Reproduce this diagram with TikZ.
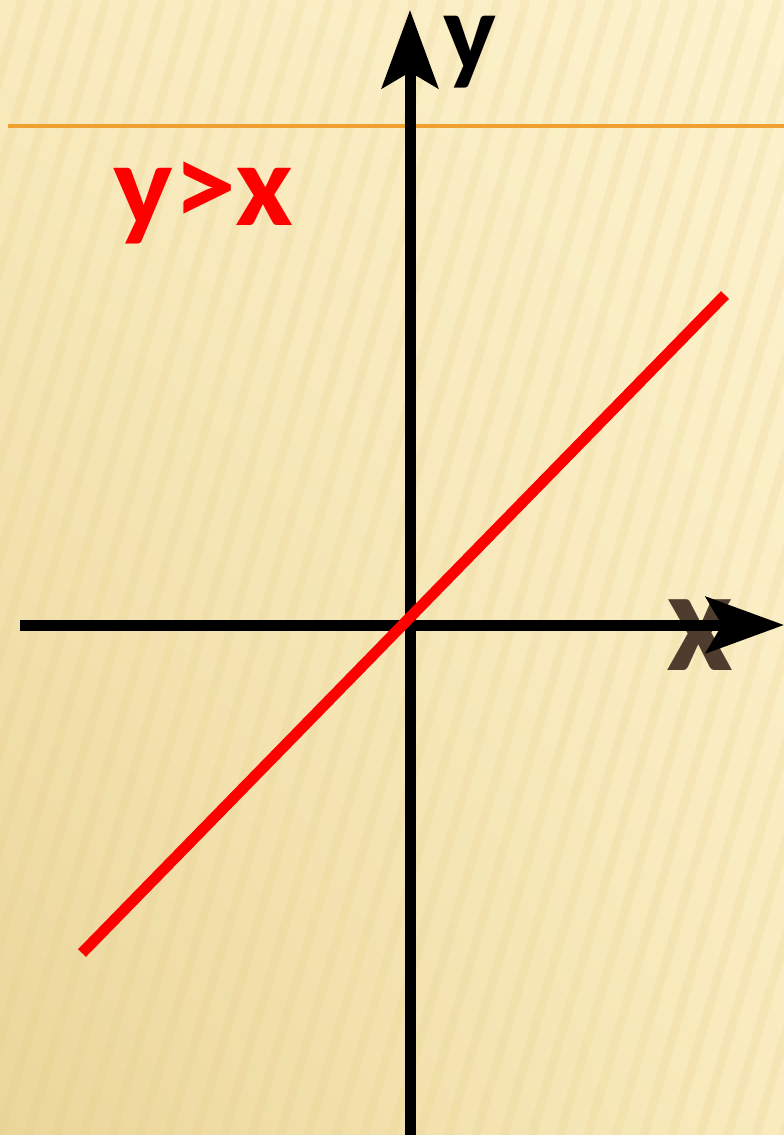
\documentclass[tikz,border=0pt]{standalone}
\usepackage{fontspec}
\setmainfont{Carlito}
\usetikzlibrary{arrows.meta,shadings}
\definecolor{bgtop}{HTML}{FDF2CD}
\definecolor{bgmid}{HTML}{F9EBBE}
\definecolor{bgbot}{HTML}{EBD69A}
\definecolor{stripe}{HTML}{E2CB85}
\definecolor{rule}{HTML}{F0A030}
\definecolor{xbrown}{HTML}{4E3D2F}
\tikzset{
  axis/.style={line width=11pt, black, -{Stealth[length=78pt, width=56pt, inset=16pt]}},
  graphline/.style={line width=11pt, red},
  lbl/.style={font=\bfseries, inner sep=0pt, anchor=base west, text height=0.47em, text depth=0.2em}
}
\begin{document}
\begin{tikzpicture}[x=1pt, y=-1pt]
  \useasboundingbox (0,0) rectangle (784,1135);
  \begin{scope}[x=1pt, y=1pt]
    \shade[lower left=bgbot, upper right=bgtop, upper left=bgmid, lower right=bgmid] (0,-1135) rectangle (784,0);
    \clip (0,-1135) rectangle (784,0);
    \foreach \i in {-700,-672,...,800}
      \draw[line width=9pt, stripe, opacity=0.17] (\i,-1135) -- (\i+330,0);
  \end{scope}
  \coordinate (rl) at (8,126);
  \coordinate (rr) at (784,126);
  \draw[rule, line width=3.5pt] (rl) -- (rr);
  \node[lbl, text=xbrown, font=\bfseries\fontsize{146}{146}\selectfont] (xl) at (666,670) {x};
  \node[lbl, text=black, font=\bfseries\fontsize{112}{112}\selectfont] (yl) at (443,70) {y};
  \node[lbl, text=red, font=\bfseries\fontsize{118}{118}\selectfont] (ineq) at (113,225) {\scalebox{1.07}[1]{y>x}};
  \coordinate (xs) at (20,625);
  \coordinate (xe) at (784,625);
  \coordinate (ys) at (410,1135);
  \coordinate (ye) at (410,10);
  \draw[axis] (xs) -- (xe);
  \draw[axis] (ys) -- (ye);
  \coordinate (ls) at (82,953);
  \coordinate (le) at (725,295);
  \draw[graphline] (ls) -- (le);
\end{tikzpicture}
\end{document}
